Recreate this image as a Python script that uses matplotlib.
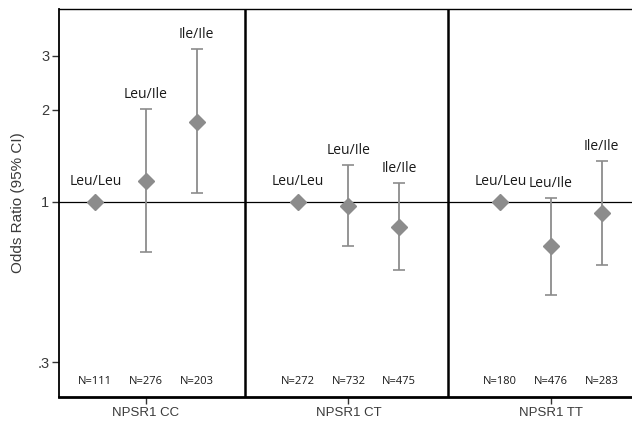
import numpy as np
import matplotlib
matplotlib.use("Agg")
import matplotlib.pyplot as plt
import matplotlib.transforms as mtransforms

# ── data ─────────────────────────────────────────────────────────────────────
GROUPS    = ["NPSR1 CC", "NPSR1 CT", "NPSR1 TT"]
GENOTYPES = ["Leu/Leu", "Leu/Ile", "Ile/Ile"]

OR_CC = [1.0, 1.17, 1.83]
LO_CC = [1.0, 0.687, 1.07]
HI_CC = [1.0, 2.01, 3.16]
N_CC  = [111, 276, 203]

OR_CT = [1.0, 0.97, 0.83]
LO_CT = [1.0, 0.718, 0.60]
HI_CT = [1.0, 1.32, 1.15]
N_CT  = [272, 732, 475]

OR_TT = [1.0, 0.718, 0.92]
LO_TT = [1.0, 0.497, 0.622]
HI_TT = [1.0, 1.03, 1.36]
N_TT  = [180, 476, 283]

Y_TICKS  = [0.3, 1, 2, 3]
Y_LABELS = [".3", "1", "2", "3"]

ors = [OR_CC, OR_CT, OR_TT]
los = [LO_CC, LO_CT, LO_TT]
his = [HI_CC, HI_CT, HI_TT]
ns  = [N_CC, N_CT, N_TT]

# ── style ────────────────────────────────────────────────────────────────────
C_MARK = "#8c8c8c"
C_TEXT = "#3a3a3a"
OFFSET = 0.25          # spacing of genotypes inside a group
LABEL_FONT = "Open Sans"
AXIS_FONT  = "Liberation Sans"

W, H, DPI = 632, 423, 100
fig = plt.figure(figsize=(W / DPI, H / DPI), dpi=DPI)

left_px, right_px, top_px, bot_px = 59, 640, 9, 397
ax = fig.add_axes([left_px / W, 1 - bot_px / H,
                   (right_px - left_px) / W, (bot_px - top_px) / H])

px_per_unit = 202.5
x0 = 1 + (left_px - 146) / px_per_unit
ax.set_xlim(x0, x0 + (right_px - left_px) / px_per_unit)
ax.set_yscale("log")
ax.set_ylim(0.2306, 4.27)

ax.axhline(1, color="black", lw=0.9, zorder=1)
for g in range(len(GROUPS) - 1):
    ax.axvline(g + 1.49, color="black", lw=1.8, zorder=1)

n_trans = mtransforms.blended_transform_factory(ax.transData, ax.transAxes)

for g, grp in enumerate(GROUPS):
    center = g + 1
    for k, geno in enumerate(GENOTYPES):
        x = center + (k - 1) * OFFSET
        v, lo, hi = ors[g][k], los[g][k], his[g][k]
        if hi > lo:
            ax.errorbar([x], [v], yerr=[[v - lo], [hi - v]], fmt="none",
                        ecolor=C_MARK, elinewidth=1.3, capsize=4,
                        capthick=1.2, zorder=2)
            top, off = hi, 15
        else:
            top, off = v, 20
        ax.plot([x], [v], marker="D", ms=8, color=C_MARK, mec=C_MARK,
                ls="none", zorder=3)
        ax.annotate(geno, xy=(x, top), xytext=(0, off),
                    textcoords="offset pixels", ha="center", va="center",
                    fontsize=10, family=LABEL_FONT, color="#1a1a1a")
        ax.text(x, 0.0387, f"N={ns[g][k]}", transform=n_trans,
                ha="center", va="center", fontsize=8,
                family=LABEL_FONT, color="#1a1a1a")

# ── axes ─────────────────────────────────────────────────────────────────────
ax.set_yticks(Y_TICKS)
ax.set_yticklabels(Y_LABELS)
ax.yaxis.set_minor_locator(matplotlib.ticker.NullLocator())
ax.set_xticks(range(1, len(GROUPS) + 1))
ax.set_xticklabels(GROUPS)
ax.xaxis.set_minor_locator(matplotlib.ticker.NullLocator())
for lab in ax.get_xticklabels():
    lab.set_family(AXIS_FONT)
    lab.set_fontsize(9.5)
    lab.set_color(C_TEXT)
for lab in ax.get_yticklabels():
    lab.set_family(AXIS_FONT)
    lab.set_fontsize(10.5)
    lab.set_color(C_TEXT)
ax.tick_params(axis="both", direction="out", length=5, width=1,
               color="#333333", pad=2)
ax.set_ylabel("Odds Ratio (95% CI)", family=AXIS_FONT, fontsize=11,
              color=C_TEXT, labelpad=9)

ax.spines["bottom"].set_linewidth(2.0)
ax.spines["left"].set_linewidth(1.3)
ax.spines["top"].set_linewidth(1.0)
ax.spines["right"].set_linewidth(1.0)

fig.savefig("out.png", dpi=DPI)
